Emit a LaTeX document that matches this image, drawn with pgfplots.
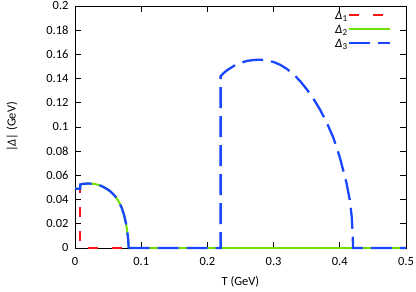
\documentclass[border=0pt]{standalone}
\usepackage{fontspec}
\setmainfont{Carlito}
\usepackage{pgfplots}
\pgfplotsset{compat=1.18}
\definecolor{gred}{RGB}{255,20,20}
\definecolor{ggreen}{RGB}{110,225,0}
\definecolor{gblue}{RGB}{25,70,255}
\pgfplotstableread{
T D
0 0.049
0.008 0.049
0.008 0.0525
0.012 0.053
0.02 0.0533
0.03 0.0529
0.04 0.0513
0.05 0.0482
0.055 0.0460
0.06 0.0432
0.065 0.0394
0.07 0.0340
0.074 0.0275
0.077 0.0205
0.079 0.0135
0.0805 0.006
0.081 0.0
}\domeA
\pgfplotstableread{
T D
0.081 0.0
0.22 0.0
0.22 0.142
0.225 0.1448
0.23 0.1470
0.24 0.1505
0.25 0.1530
0.26 0.1546
0.27 0.1554
0.28 0.1556
0.29 0.1551
0.30 0.1537
0.31 0.1514
0.32 0.1480
0.33 0.1436
0.34 0.1380
0.35 0.1312
0.36 0.1235
0.37 0.1145
0.38 0.1040
0.39 0.0915
0.40 0.0750
0.41 0.0540
0.415 0.0400
0.418 0.0260
0.4195 0.012
0.42 0.0
0.5 0.0
}\domeB
\begin{document}
\begin{tikzpicture}
\begin{axis}[
  scale only axis,
  width=331bp, height=242bp,
  xmin=0, xmax=0.5, ymin=0, ymax=0.2,
  xtick={0,0.1,0.2,0.3,0.4,0.5},
  ytick={0,0.02,0.04,0.06,0.08,0.1,0.12,0.14,0.16,0.18,0.2},
  yticklabels={0,0.02,0.04,0.06,0.08,0.1,0.12,0.14,0.16,0.18,0.2},
  xticklabels={0,0.1,0.2,0.3,0.4,0.5},
  tick align=inside,
  major tick length=6bp,
  tick style={black, line width=0.8pt},
  axis line style={black, line width=0.9pt},
  ticklabel style={font=\fontsize{12.5}{14}\selectfont},
  xticklabel style={yshift=-6bp},
  yticklabel style={xshift=-3bp},
  /pgf/number format/assume math mode=true,
  xlabel={T (GeV)},
  ylabel={|\textit{Δ}| (GeV)},
  label style={font=\fontsize{12.5}{14}\selectfont},
  xlabel style={yshift=-4bp},
  ylabel style={yshift=22bp},
  clip=false,
  legend style={draw=none, fill=none, at={(0.955,0.985)}, anchor=north east,
    font=\fontsize{13}{14}\selectfont, row sep=0pt, inner sep=0pt,
    nodes={inner sep=0pt, text height=10bp, text depth=4bp}},
  legend cell align=right,
  legend plot pos=right,
  legend image code/.code={\draw[#1] (2bp,2bp) -- (43bp,2bp);},
]
\addplot[gred, line width=2.3pt, dash pattern=on 10bp off 14bp] coordinates {(0,0.049) (0.008,0.049) (0.008,0) (0.5,0)};
\addlegendentry{\textit{Δ}\textsubscript{1}}
\addplot[ggreen, line width=2pt] table[x=T,y=D] {\domeA};
\addlegendentry{\textit{Δ}\textsubscript{2}}
\addplot[ggreen, line width=2pt, forget plot] coordinates {(0.081,0) (0.5,0)};
\addplot[gblue, line width=2.3pt, dash pattern=on 21bp off 8bp, forget plot] table[x=T,y=D] {\domeA};
\addplot[gblue, line width=2.3pt, dash pattern=on 21bp off 8bp] table[x=T,y=D] {\domeB};
\addlegendentry{\textit{Δ}\textsubscript{3}}
\coordinate (sw) at (rel axis cs:0,0);
\end{axis}
\pgfresetboundingbox
\path[use as bounding box] ([shift={(-75bp,-44bp)}]sw) rectangle ([shift={(341bp,248bp)}]sw);
\end{tikzpicture}
\end{document}
